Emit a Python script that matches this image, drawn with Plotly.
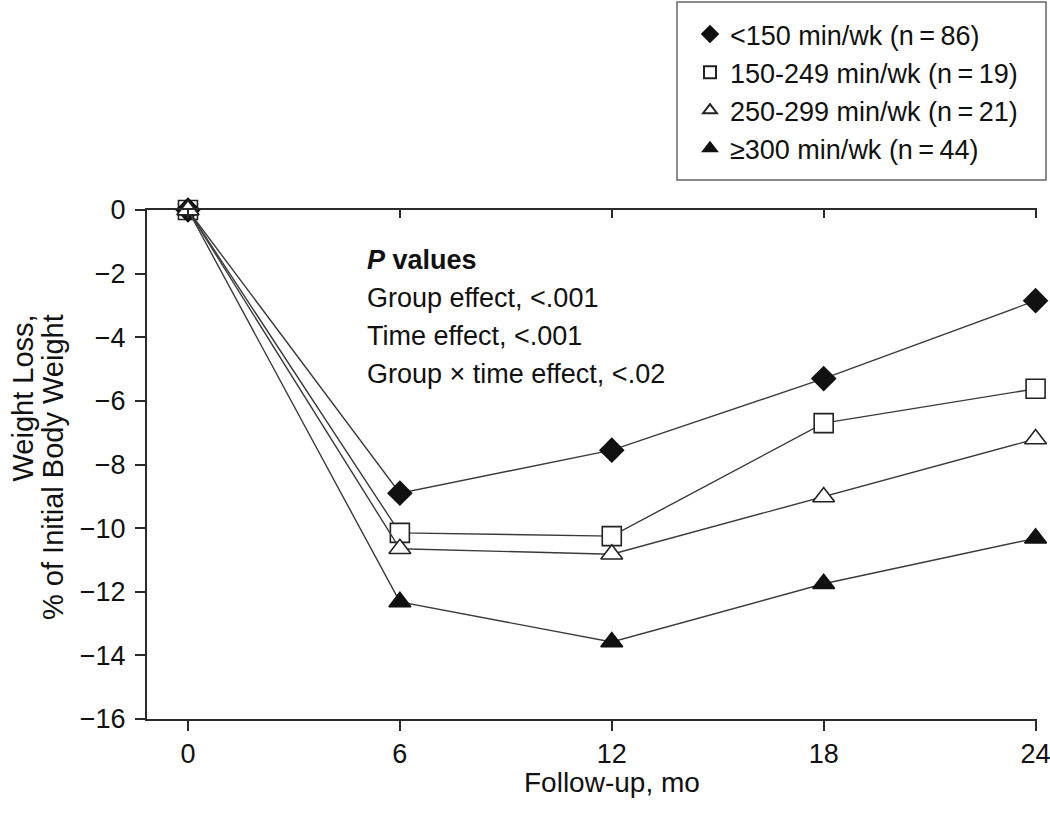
import plotly.graph_objects as go

months = [0, 6, 12, 18, 24]
lt150 = [0, -8.9, -7.55, -5.3, -2.85]
r150_249 = [0, -10.15, -10.25, -6.7, -5.62]
r250_299 = [0, -10.65, -10.82, -9.02, -7.2]
ge300 = [0, -12.32, -13.58, -11.75, -10.32]

names = ["&lt;150 min/wk (n\u2009=\u200986)", "150-249 min/wk (n\u2009=\u200919)",
         "250-299 min/wk (n\u2009=\u200921)", "\u2265300 min/wk (n\u2009=\u200944)"]
yticks = list(range(-16, 1, 2))
xticks = months
pvalue_lines = ["<b><i>P</i> values</b>", "Group effect, &lt;.001", "Time effect, &lt;.001",
                "Group \u00d7 time effect, &lt;.02"]

FONT = "Liberation Sans, Arial, Helvetica, sans-serif"
LINE = "#3a3a3a"
AX = "#2a2a2a"
TXT = "#111111"

fig = go.Figure()
series = [
    (r150_249, names[1], "square", "white", "#222222", 19, 2),
    (lt150, names[0], "diamond", "#111111", "#111111", 18, 1),
    (ge300, names[3], "triangle-up", "#111111", "#111111", 19, 4),
    (r250_299, names[2], "triangle-up", "white", "#222222", 19, 3),
]
for ys, nm, sym, fill, edge, sz, rank in series:
    fig.add_trace(go.Scatter(
        x=months, y=ys, name=nm, mode="lines+markers",
        line=dict(color=LINE, width=1.4),
        marker=dict(symbol=sym, size=sz, color=fill, line=dict(color=edge, width=1.6)),
        cliponaxis=False, showlegend=False,
    ))
# legend entries (markers only, as in the reference legend)
for ys, nm, sym, fill, edge, sz, rank in series:
    fig.add_trace(go.Scatter(
        x=[None], y=[None], name=nm, mode="markers",
        marker=dict(symbol=sym, size=16, color=fill, line=dict(color=edge, width=1.6)),
        legendrank=rank, showlegend=True,
    ))

L, R, T, B = 147, 13, 210, 96
W, H = 1050, 815
pw, ph = W - L - R, H - T - B
xr = [-1.16, 24.04]


def px_x(p):
    return (p - L) / pw


def px_y(p):
    return (H - B - p) / ph


fig.update_layout(
    width=W, height=H,
    margin=dict(l=L, r=R, t=T, b=B, pad=0, autoexpand=False),
    paper_bgcolor="white", plot_bgcolor="white",
    font=dict(family=FONT, size=27, color=TXT),
    showlegend=True,
    legend=dict(
        x=px_x(690), y=px_y(10), xanchor="left", yanchor="top",
        borderwidth=0, bgcolor="rgba(0,0,0,0)",
        font=dict(family=FONT, size=27, color=TXT),
        itemsizing="constant", tracegroupgap=0,
    ),
    xaxis=dict(
        range=xr, tickvals=xticks, ticktext=[str(v) for v in xticks],
        showline=True, linecolor=AX, linewidth=2,
        ticks="outside", ticklen=10, tickwidth=2, tickcolor=AX,
        showgrid=False, zeroline=False, ticklabeloverflow="allow",
        tickfont=dict(family=FONT, size=27, color=TXT),
    ),
    xaxis2=dict(
        range=xr, overlaying="x", side="top", tickvals=xticks,
        showticklabels=False, showline=True, linecolor=AX, linewidth=2,
        ticks="inside", ticklen=8, tickwidth=2, tickcolor=AX,
        showgrid=False, zeroline=False,
    ),
    yaxis=dict(
        range=[-16, 0], tickvals=yticks,
        showline=True, linecolor=AX, linewidth=2,
        ticks="outside", ticklen=10, tickwidth=2, tickcolor=AX,
        showgrid=False, zeroline=False, ticklabelstandoff=4,
        tickfont=dict(family=FONT, size=27, color=TXT),
    ),
    shapes=[dict(
        type="rect", xref="paper", yref="paper",
        x0=px_x(677), x1=px_x(1046), y0=px_y(180), y1=px_y(2),
        line=dict(color="#666666", width=1.5), fillcolor="rgba(0,0,0,0)",
    )],
)

# dummy trace to activate xaxis2
fig.add_trace(go.Scatter(x=[None], y=[None], xaxis="x2", showlegend=False, hoverinfo="skip"))

for txt, yc in zip(pvalue_lines, [260, 298, 336, 374]):
    fig.add_annotation(
        x=px_x(365), y=px_y(yc), xref="paper", yref="paper", xanchor="left", yanchor="middle",
        align="left", showarrow=False, text=txt,
        font=dict(family=FONT, size=27, color=TXT),
    )
fig.add_annotation(
    x=px_x(612), y=px_y(782), xref="paper", yref="paper", xanchor="center", yanchor="middle",
    showarrow=False, text="Follow-up, mo",
    font=dict(family=FONT, size=28, color=TXT),
)
fig.add_annotation(
    x=px_x(22), y=px_y(312), xref="paper", yref="paper", xanchor="center", yanchor="top",
    showarrow=False, text="Weight Loss,", textangle=-90,
    font=dict(family=FONT, size=29, color=TXT),
)
fig.add_annotation(
    x=px_x(53), y=px_y(312), xref="paper", yref="paper", xanchor="center", yanchor="top",
    showarrow=False, text="% of Initial Body Weight", textangle=-90,
    font=dict(family=FONT, size=29, color=TXT),
)

fig.write_html("out.html", config={"displayModeBar": False},
               post_script="document.body.style.margin='0px';document.body.style.padding='0px';")
